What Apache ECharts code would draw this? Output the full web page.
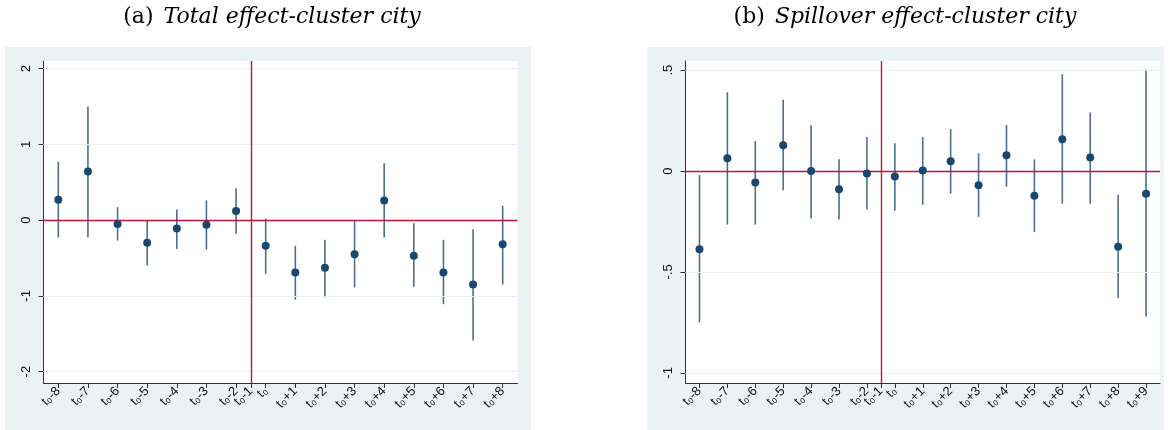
<!DOCTYPE html>
<html>
<head>
<meta charset="utf-8">
<script src="https://cdn.jsdelivr.net/npm/echarts@6/dist/echarts.min.js"></script>
<style>html,body{margin:0;padding:0;background:#fff;}#c{width:1174px;height:430px;}</style>
</head>
<body>
<div id="c"></div>
<script>
// ---------- DATA ----------
// Panel (a): Total effect-cluster city
const catsA = ['t₀-8','t₀-7','t₀-6','t₀-5','t₀-4','t₀-3','t₀-2','t₀','t₀+1','t₀+2','t₀+3','t₀+4','t₀+5','t₀+6','t₀+7','t₀+8'];
const estA  = [0.27, 0.64, -0.05, -0.30, -0.11, -0.06, 0.12, -0.34, -0.69, -0.63, -0.45, 0.26, -0.47, -0.69, -0.85, -0.32];
const hiA   = [0.77, 1.50, 0.17, 0.00, 0.14, 0.26, 0.42, 0.02, -0.34, -0.26, 0.00, 0.75, -0.04, -0.26, -0.12, 0.19];
const loA   = [-0.23, -0.23, -0.27, -0.60, -0.38, -0.39, -0.18, -0.71, -1.05, -1.02, -0.89, -0.23, -0.88, -1.11, -1.59, -0.85];
const yTicksA = [-2, -1, 0, 1, 2];
const yLabelsA = ['-2', '-1', '0', '1', '2'];

// Panel (b): Spillover effect-cluster city
const catsB = ['t₀-8','t₀-7','t₀-6','t₀-5','t₀-4','t₀-3','t₀-2','t₀','t₀+1','t₀+2','t₀+3','t₀+4','t₀+5','t₀+6','t₀+7','t₀+8','t₀+9'];
const estB  = [-0.387, 0.063, -0.057, 0.128, 0.0, -0.09, -0.012, -0.027, 0.002, 0.048, -0.07, 0.078, -0.122, 0.158, 0.067, -0.375, -0.112];
const hiB   = [-0.02, 0.39, 0.148, 0.353, 0.227, 0.058, 0.168, 0.138, 0.168, 0.208, 0.088, 0.228, 0.058, 0.48, 0.29, -0.117, 0.503];
const loB   = [-0.75, -0.265, -0.265, -0.095, -0.235, -0.24, -0.19, -0.197, -0.167, -0.112, -0.227, -0.077, -0.302, -0.162, -0.162, -0.63, -0.72];
const yTicksB = [-1, -0.5, 0, 0.5];
const yLabelsB = ['-1', '-.5', '0', '.5'];

// omitted reference period label (drawn between t0-2 and t0)
const refLabel = 't₀-1';
const titleA = ['(a)', 'Total effect-cluster city'];
const titleB = ['(b)', 'Spillover effect-cluster city'];

// ---------- BUILD ----------
const NAVY = '#1a476f';
const BAR = '#4d6e90';
const RED = '#c0143c';
const GRID = '#e9f0f2';
const BG = '#eaf2f3';
const SANS = 'Liberation Sans, Arial, sans-serif';

function axisStuff(cats) {
  const refIdx = cats.indexOf('t₀');           // first post period
  const refPos = refIdx + 0.5;                 // halfway between t0-2 and t0
  const pos = cats.map((c, i) => i + 1);
  const tickVals = pos.slice();
  const lab = {};
  cats.forEach((c, i) => { lab[pos[i]] = c; });
  tickVals.splice(refIdx, 0, refPos);
  lab[refPos] = refLabel;
  return { pos, tickVals, lab, refPos };
}

function buildPanel(idx, cats, est, hi, lo, yTicks, yLabels, yMin, yMax) {
  const a = axisStuff(cats);
  const xAxis = {
    type: 'value', gridIndex: idx, min: 0.5, max: cats.length + 0.5,
    axisLine: { show: true, onZero: false, lineStyle: { color: '#333', width: 1 } },
    axisTick: { show: true, length: 5, customValues: a.tickVals, lineStyle: { color: '#333' } },
    axisLabel: {
      customValues: a.tickVals, rotate: 45, fontSize: 13, color: '#111',
      fontFamily: SANS, margin: 6,
      formatter: v => a.lab[v] !== undefined ? a.lab[v] : ''
    },
    splitLine: { show: false }
  };
  const ymap = {};
  yTicks.forEach((t, i) => ymap[t] = yLabels[i]);
  const yAxis = {
    type: 'value', gridIndex: idx, min: yMin, max: yMax,
    axisLine: { show: true, onZero: false, lineStyle: { color: '#333', width: 1 } },
    axisTick: { show: true, length: 5, customValues: yTicks, lineStyle: { color: '#333' } },
    axisLabel: {
      customValues: yTicks, rotate: 90, fontSize: 13, color: '#111', margin: 11,
      fontFamily: SANS,
      formatter: v => ymap[v] !== undefined ? ymap[v] : ''
    },
    splitLine: { show: false }
  };
  const pts = est.map((v, i) => [a.pos[i], v]);
  const bars = est.map((v, i) => [a.pos[i], lo[i], hi[i]]);
  const series = [
    {
      type: 'custom', xAxisIndex: idx, yAxisIndex: idx, silent: true, z: 3,
      renderItem: (params, api) => {
        const p1 = api.coord([api.value(0), api.value(1)]);
        const p2 = api.coord([api.value(0), api.value(2)]);
        return { type: 'line', shape: { x1: p1[0], y1: p1[1], x2: p2[0], y2: p2[1] },
                 style: { stroke: BAR, lineWidth: 1.6 } };
      },
      encode: { x: 0, y: [1, 2] },
      data: bars,
      markLine: {
        silent: true, symbol: 'none', label: { show: false }, animation: false,
        lineStyle: { color: GRID, width: 1, type: 'solid' },
        data: yTicks.filter(t => t !== 0).map(t => ({ yAxis: t }))
      }
    },
    {
      type: 'scatter', xAxisIndex: idx, yAxisIndex: idx, silent: true, z: 5,
      symbol: 'circle', symbolSize: 8, itemStyle: { color: NAVY, opacity: 1 },
      data: pts,
      markLine: {
        silent: true, symbol: 'none', label: { show: false }, animation: false,
        lineStyle: { color: RED, width: 1.4, type: 'solid', opacity: 1 },
        data: [{ yAxis: 0 }, { xAxis: a.refPos }]
      }
    }
  ];
  return { xAxis, yAxis, series };
}

const pA = buildPanel(0, catsA, estA, hiA, loA, yTicksA, yLabelsA, -2.15, 2.10);
const pB = buildPanel(1, catsB, estB, hiB, loB, yTicksB, yLabelsB, -1.05, 0.545);

function mkTitle(x, t) {
  return {
    left: x, top: 1, textAlign: 'center',
    text: '{n|' + t[0] + '}  {i|' + t[1] + '}',
    textStyle: { fontWeight: 'normal', rich: {
      n: { fontFamily: 'DejaVu Serif', fontSize: 22, fontWeight: 'normal', color: '#000' },
      i: { fontFamily: 'DejaVu Serif', fontStyle: 'italic', fontWeight: 'normal', fontSize: 22, color: '#000' } } }
  };
}

const chart = echarts.init(document.getElementById('c'), null, { renderer: 'canvas' });
chart.setOption({
  animation: false,
  backgroundColor: '#ffffff',
  graphic: [
    { type: 'rect', z: -10, shape: { x: 5, y: 47, width: 526, height: 383 }, style: { fill: BG } },
    { type: 'rect', z: -10, shape: { x: 647, y: 47, width: 517, height: 383 }, style: { fill: BG } }
  ],
  title: [mkTitle(267, titleA), mkTitle(900, titleB)],
  grid: [
    { left: 43.5, top: 61, width: 474, height: 322, show: true, backgroundColor: '#fff', borderWidth: 0 },
    { left: 685.5, top: 61, width: 474.5, height: 322, show: true, backgroundColor: '#fff', borderWidth: 0 }
  ],
  xAxis: [pA.xAxis, pB.xAxis],
  yAxis: [pA.yAxis, pB.yAxis],
  series: [...pA.series, ...pB.series]
});
</script>
</body>
</html>
